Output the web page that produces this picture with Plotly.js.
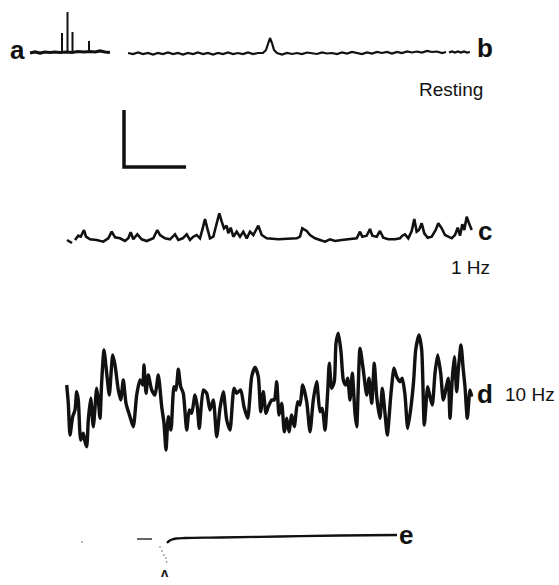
<!DOCTYPE html>
<html>
<head>
<meta charset="utf-8">
<script src="https://cdn.plot.ly/plotly-3.0.1.min.js"></script>
<style>html,body{margin:0;padding:0;background:#fff;}#chart{width:559px;height:585px;}</style>
</head>
<body>
<div id="chart"></div>
<script>
// Trace a (resting baseline) and its spikes
const traceA_x = [30,35,40,45,50,55,60,66,72,78,84,90,95,100,105,110];
const traceA_y = [53,52,53,52,52.5,52,52.5,52,52.5,51.5,52,51.5,52,51,52,52.5];
const spikeA_x = [62,62,null,67.5,67.5,null,72.5,72.5,null,89,89];
const spikeA_y = [52,33,null,52,12,null,52,32,null,52,41];

// Trace b (resting)
const traceB_x = [128,133,138,143,148,153,158,163,168,173,178,183,188,193,198,203,208,213,218,223,228,233,238,243,248,253,258,263,266,268,270,272,274,277,282,287,292,297,302,307,312,317,322,327,332,337,342,347,352,357,362,367,372,377,382,387,392,397,402,407,412,417,422,427,432,437,442,446,null,449,452,455,458,461,464,467,470];
const traceB_y = [53,54,52.5,54,53,54.5,53,54,52.5,54,53,54.5,53,54,52.5,54,53,54.5,53,54,52.5,54,53,54,52.5,54,53,53,50,44,38,43,50,53,54.5,53,54,53,54,52.5,53.5,54,52.5,53.5,53,54,52.5,53.5,52,53,54,52.5,53.5,52,53,52,53.5,52,53,51.5,52.5,51.5,52.5,51,52,51.5,53,52,null,52.5,51.5,52.5,51.5,52.5,51.5,52.5,52];

// Trace c (1 Hz)
const traceC_x = [67,72,null,75,78.3,80.7,84,86,90,96.7,103.3,108.3,111.7,115,120,125,128.3,130.7,133.3,137.3,141.7,146.7,153.3,157.3,160,165,170,175,178.3,182.7,186.7,190,193.3,196.7,200,202.7,205,207.3,210,213.3,216.7,219.3,221.7,224,226.7,228.3,230.7,233.3,236.7,240,243.3,246.7,250,253.3,258.3,261.7,266.7,278.3,296.7,300,302.3,306.7,310,315,320,325,330,335,341.7,351.7,356.7,360,362.3,366.7,370,372.3,376.7,380,383.3,388.3,395,400,402.3,405,408.3,411.7,414.3,416.7,419,421.7,424.3,427.7,431.7,435.7,438.3,441.7,445,448.3,451.7,455,457.7,460,462.3,464.3,466.7,469,471.7];
const traceC_y = [240,243,null,240,235.7,236.7,230,236.7,239.3,240,241.7,238.3,231.7,237.3,238.3,241,238.3,232.3,239.3,234.3,239.3,241,238.3,230,235,238.3,239.3,234.3,240,238.3,234.3,240,236.7,235,238.3,228.3,219,228.3,238.3,236.7,223.3,213.3,221.7,228.3,225.7,233.3,227.7,236.7,231.7,236.7,231.7,238.3,231.7,235,225.7,235,238.3,239.3,238.3,236.7,228.3,231,235,238.3,240,241.7,239.3,241,240,239.3,238.3,231.7,236.7,235.7,229,235.7,236.7,231,237.7,239.3,239.3,238.3,235.7,234.3,238.3,231,219,231.7,230,223.3,233.3,237.7,236.7,230,223.3,228.3,235,236.7,238.3,235,227.7,235.7,224.3,230,216.7,223.3,230];

// Trace d (10 Hz)
const traceD_x = [66.7,68.3,70,72.7,75,76.7,78.3,80.7,83.3,85,86.7,88.3,90.7,93.3,96.7,98.3,100,101.7,104,106.7,109.3,112.7,115,118.3,120.7,123.3,126,130,133.3,136.7,140,142.7,144,146,148.3,151.7,155,158.3,161.7,164,166,168.3,171,174,176,178.3,180.7,183.3,186.7,189.3,191.7,195,197.3,199.3,203.3,206.7,210,213.3,216.7,220,223.3,226.7,230,234,236.7,240.7,244,247.7,251.7,255,258.3,260.7,263.3,266,268.3,271.7,274.3,276.7,279,281.7,284.3,286.7,289,291.7,294.3,297.7,300,302.7,306.7,310,313.3,316.7,320,322.3,325,327.7,329.3,331.7,334.3,336,338.3,341,343.3,345.7,347.7,350,352.3,355,356.7,360,363.3,366.7,369,371.7,374.3,376.7,380,382.3,385,387.3,391,394,396.7,400,402.3,405,407.7,411,413.7,415.7,419,421.7,424.3,427.7,430,432.3,435,437.7,440.7,443.3,446.7,448.3,450,452.3,454.3,456.7,458.3,461,463.3,465,467.3,470,471.7];
const traceD_y = [385,403.3,435,416.7,410,391.7,400,440,433.3,441.7,446.7,420,398.3,426.7,388.3,400,418.3,381.7,350,373.3,395,355,365,390,400,380,403.3,416.7,426.7,395,380,385,365,393.3,375,390,395,375,406.7,423.3,450,416.7,430,386.7,390,369.3,386.7,393.3,430,410,413.3,395,406.7,428.3,390,393.3,410,400,436.7,408.3,391.7,420,430,388.3,393.3,390,406.7,418.3,376.7,367.3,376.7,411.7,391.7,413.3,406.7,400,400,381.7,415,403.3,431.7,418.3,431.7,415,426.7,401.7,405,385,401.7,431.7,400,381.7,411.7,408.3,430,391.7,363.3,388.3,381.7,343.3,333.3,351.7,380,385,378.3,400,373.3,413.3,426.7,348.3,370,395,378.3,403.3,363.3,396.7,418.3,388.3,413.3,435,393.3,368.3,376.7,381.7,378.3,395,428.3,406.7,380,350,335,350,425,386.7,396.7,405,373.3,355,373.3,400,385,378.3,418.3,378.3,356.7,391.7,370,345,370,386.7,418.3,390,396.7];

// Trace e (response)
const traceE_x = [167,169,172,176,185,220,280,340,397];
const traceE_y = [543,541,539.5,538.5,538,537.5,536.5,535.5,535];
const dashE_x = [137,152];
const dashE_y = [539,539];
const dotsE_x = [82,160,162,164,166,166.5];
const dotsE_y = [542,547,551,555,558,562];

// Scale bar
const scaleX = [124,124,186];
const scaleY = [110,167,167];

// Labels
const labelText = ['a','b','c','d','e'];
const labelX = [17,485,485,485,406];
const labelY = [50,48,231,394,535];
const condText = ['Resting','1 Hz','10 Hz'];
const condX = [451,470,530];
const condY = [89,267,394];

const K = '#111';
const data = [
  {x: traceA_x, y: traceA_y, mode:'lines', line:{color:K, width:3.2}},
  {x: spikeA_x, y: spikeA_y, mode:'lines', line:{color:K, width:2}, connectgaps:false},
  {x: traceB_x, y: traceB_y, mode:'lines', line:{color:K, width:2.2}, connectgaps:false},
  {x: traceC_x, y: traceC_y, mode:'lines', line:{color:K, width:2.6}, connectgaps:false},
  {x: traceD_x, y: traceD_y, mode:'lines', line:{color:K, width:3.4, shape:'spline', smoothing:0.6}},
  {x: traceE_x, y: traceE_y, mode:'lines', line:{color:K, width:2.4, shape:'spline'}},
  {x: dashE_x, y: dashE_y, mode:'lines', line:{color:'#333', width:1.5}},
  {x: dotsE_x, y: dotsE_y, mode:'markers', marker:{color:'#666', size:1.6}},
  {x: scaleX, y: scaleY, mode:'lines', line:{color:K, width:3.5}},
];

const F = 'Liberation Sans, Arial, sans-serif';
const annotations = [];
labelText.forEach((t,i)=>annotations.push({x:labelX[i], y:labelY[i], xref:'x', yref:'y', text:'<b>'+t+'</b>', showarrow:false, font:{family:F, size:26, color:K}}));
condText.forEach((t,i)=>annotations.push({x:condX[i], y:condY[i], xref:'x', yref:'y', text:t, showarrow:false, font:{family:F, size:19, color:K}}));
annotations.push({x:165, y:572, xref:'x', yref:'y', text:'<b>ʌ</b>', showarrow:false, font:{family:F, size:13, color:K}});

const layout = {
  width:559, height:585,
  margin:{l:0,r:0,t:0,b:0},
  paper_bgcolor:'#fff', plot_bgcolor:'#fff',
  showlegend:false,
  xaxis:{range:[0,559], visible:false, fixedrange:true},
  yaxis:{range:[585,0], visible:false, fixedrange:true},
  annotations: annotations
};
Plotly.newPlot('chart', data, layout, {staticPlot:true, displayModeBar:false});
</script>
</body>
</html>
